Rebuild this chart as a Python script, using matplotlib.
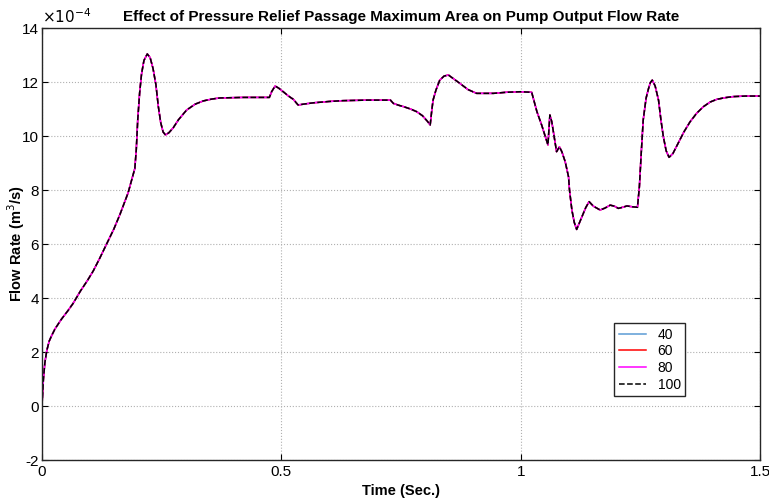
import numpy as np
import matplotlib.pyplot as plt
from matplotlib.ticker import FuncFormatter

# time (s) and flow rate (x1e-4 m^3/s)
t = [0.0, 0.003, 0.006, 0.010, 0.015, 0.020, 0.027, 0.040, 0.055, 0.065, 0.080,
     0.095, 0.107, 0.120, 0.135, 0.150, 0.163, 0.180, 0.194, 0.197, 0.200, 0.204,
     0.208, 0.213, 0.220, 0.226, 0.232, 0.238, 0.243, 0.248, 0.253, 0.258, 0.265,
     0.274, 0.285, 0.302, 0.320, 0.337, 0.355, 0.372, 0.420, 0.475, 0.480, 0.487,
     0.494, 0.504, 0.515, 0.525, 0.535, 0.550, 0.567, 0.600, 0.629, 0.680, 0.728,
     0.734, 0.745, 0.755, 0.770, 0.783, 0.795, 0.805, 0.811, 0.814, 0.817, 0.823,
     0.831, 0.840, 0.849, 0.860, 0.873, 0.890, 0.908, 0.943, 0.970, 0.999, 1.023,
     1.034, 1.044, 1.057, 1.061, 1.065, 1.070, 1.075, 1.081, 1.086, 1.093, 1.100,
     1.102, 1.107, 1.112, 1.117, 1.122, 1.128, 1.136, 1.143, 1.152, 1.166, 1.176,
     1.187, 1.196, 1.204, 1.213, 1.222, 1.233, 1.244, 1.248, 1.252, 1.256, 1.262,
     1.267, 1.271, 1.275, 1.281, 1.288, 1.293, 1.298, 1.304, 1.310, 1.318, 1.329,
     1.341, 1.354, 1.368, 1.382, 1.396, 1.410, 1.427, 1.444, 1.470, 1.500]
q = [0.0, 1.0, 1.6, 2.05, 2.4, 2.6, 2.85, 3.2, 3.55, 3.8, 4.25,
     4.65, 5.0, 5.45, 6.0, 6.55, 7.1, 7.9, 8.8, 9.5, 10.6, 11.6,
     12.3, 12.8, 13.04, 12.9, 12.5, 11.9, 11.1, 10.5, 10.15, 10.04, 10.12,
     10.3, 10.6, 10.96, 11.18, 11.3, 11.37, 11.41, 11.43, 11.43, 11.65, 11.85,
     11.78, 11.64, 11.48, 11.36, 11.15, 11.19, 11.23, 11.28, 11.31, 11.33, 11.33,
     11.21, 11.14, 11.09, 11.0, 10.9, 10.75, 10.55, 10.41, 10.9, 11.33, 11.7,
     12.07, 12.22, 12.26, 12.12, 11.95, 11.72, 11.58, 11.58, 11.62, 11.64, 11.62,
     10.9, 10.4, 9.67, 10.78, 10.53, 9.98, 9.42, 9.6, 9.42, 9.05, 8.49,
     8.0, 7.26, 6.8, 6.54, 6.75, 7.01, 7.35, 7.57, 7.4, 7.26, 7.33,
     7.44, 7.4, 7.32, 7.36, 7.41, 7.38, 7.36, 8.12, 9.4, 10.59, 11.4,
     11.75, 11.98, 12.07, 11.85, 11.33, 10.6, 9.98, 9.45, 9.21, 9.35, 9.73,
     10.15, 10.53, 10.85, 11.09, 11.26, 11.36, 11.42, 11.46, 11.48, 11.48]

areas = ['40', '60', '80', '100']
colors = ['#5b9bd5', '#ff0000', '#ff00ff', 'black']
styles = ['-', '-', '-', '--']

t = np.array(t)
q = np.array(q) * 1e-4

plt.rcParams['font.family'] = ['Liberation Sans', 'DejaVu Sans']

fig = plt.figure(figsize=(7.69, 5.04), dpi=100)
ax = fig.add_axes([0.0546, 0.0873, 0.9337, 0.8571])

for lab, c, ls in zip(areas, colors, styles):
    ax.plot(t, q, color=c, ls=ls, lw=1.1, label=lab)

ax.set_xlim(0, 1.5)
ax.set_ylim(-2e-4, 14e-4)
ax.set_xticks([0, 0.5, 1, 1.5])
ax.set_xticklabels(['0', '0.5', '1', '1.5'])
ax.set_yticks(np.arange(-2, 15, 2) * 1e-4)
ax.yaxis.set_major_formatter(FuncFormatter(lambda v, p: f'{v * 1e4:.0f}'))
ax.text(0.0, 1.004, r'$\times10^{-4}$', transform=ax.transAxes,
        ha='left', va='bottom', fontsize=11)

ax.grid(True, color='#b0b0b0', ls=':', lw=0.8)
ax.tick_params(direction='in', top=True, right=True, labelsize=11, length=4)
ax.tick_params(axis='y', pad=2)
for s in ax.spines.values():
    s.set_linewidth(1.0)
    s.set_color('#262626')

ax.set_title('Effect of Pressure Relief Passage Maximum Area on Pump Output Flow Rate',
             fontsize=11, fontweight='bold', pad=5)
ax.set_xlabel('Time (Sec.)', fontsize=10.5, fontweight='bold', labelpad=4)
ax.set_ylabel('Flow Rate (m$^3$/s)', fontsize=10.5, fontweight='bold')
ax.yaxis.set_label_coords(-0.021, 0.5)

ax.legend(loc='lower right', bbox_to_anchor=(0.905, 0.132), fontsize=10,
          fancybox=False, edgecolor='#262626', framealpha=1,
          handlelength=2.0, borderpad=0.3, labelspacing=0.2)

fig.savefig('out.png', dpi=100)
